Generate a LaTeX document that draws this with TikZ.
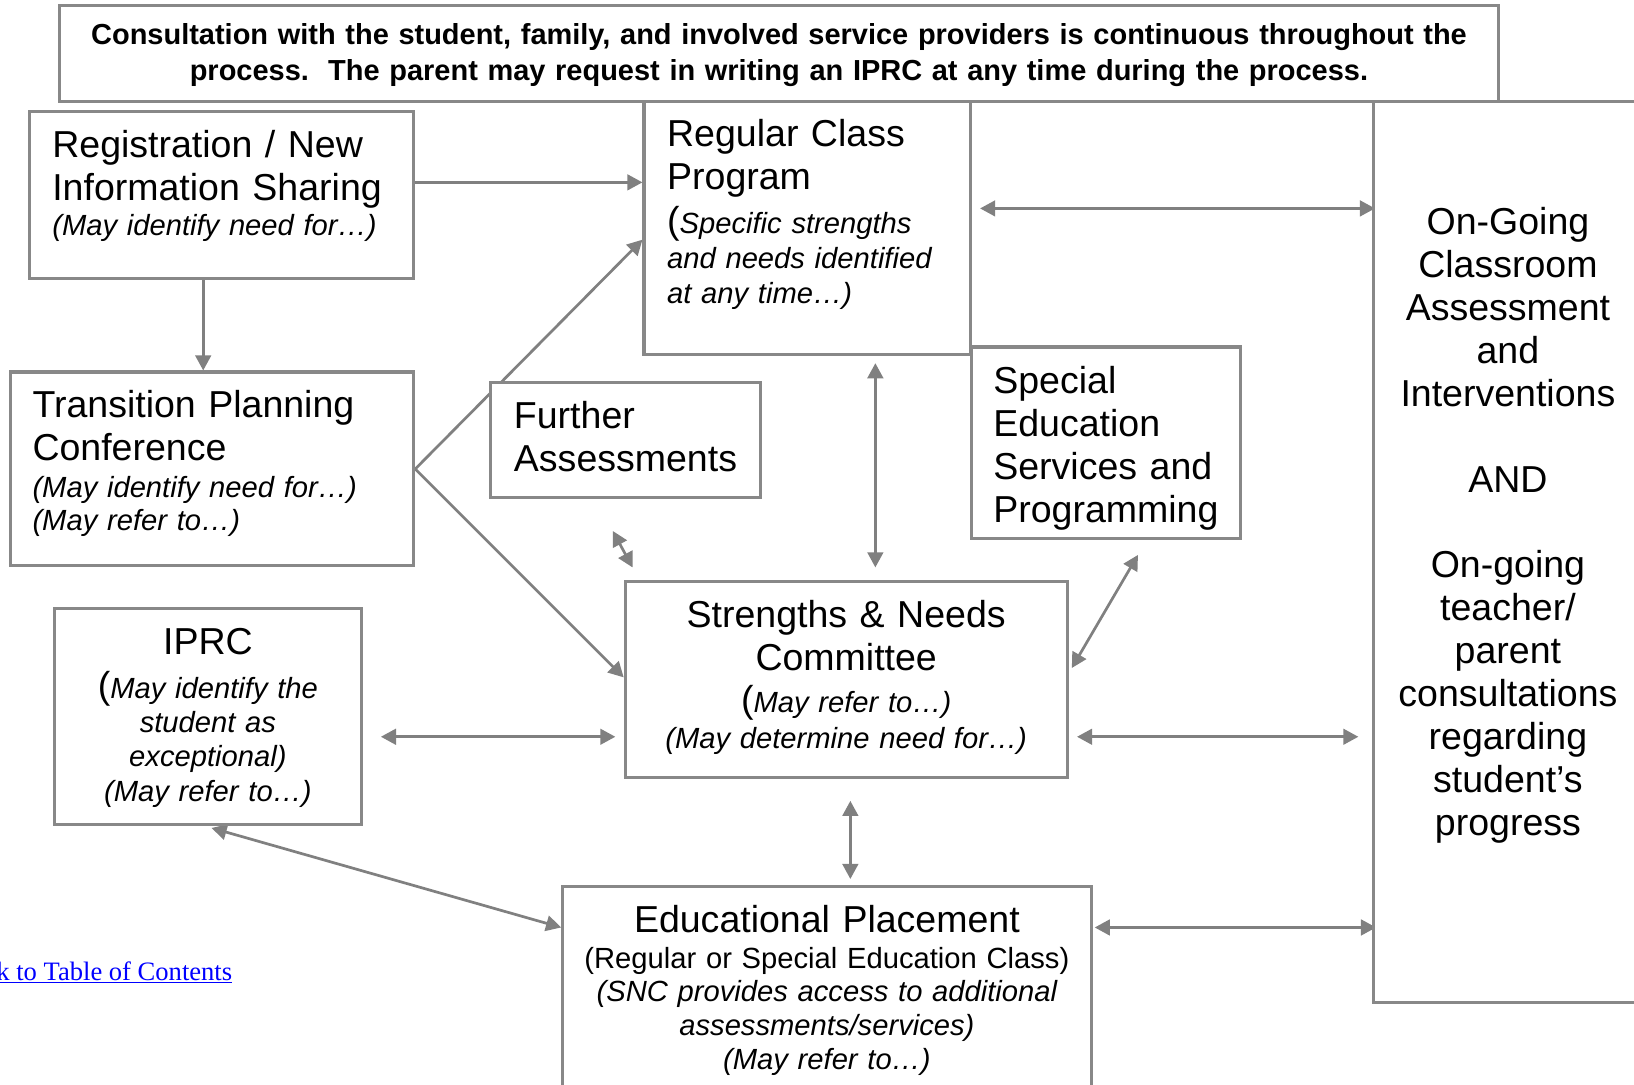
\documentclass[tikz,border=0pt]{standalone}
\usepackage{fontspec}
\setmainfont{Liberation Sans}
\newfontfamily\linkfont{Liberation Serif}
\usetikzlibrary{arrows.meta,calc,backgrounds}
\definecolor{boxgray}{RGB}{136,136,136}
\definecolor{arrgray}{RGB}{128,128,128}
\definecolor{linkblue}{RGB}{0,0,255}
\tikzset{
  box/.style={draw=boxgray,line width=3pt,fill=white,rectangle,inner sep=0pt},
  tl/.style={anchor=base west,inner sep=0pt,align=left,text width=420pt},
  tc/.style={anchor=base,inner sep=0pt,align=center,text width=#1},
  bigtxt/.style={font=\fontsize{36}{41.2}\selectfont},
  smalltxt/.style={font=\fontsize{28}{33}\selectfont},
  itxt/.style={font=\fontsize{28}{#1}\selectfont\itshape},
  conn/.style={draw=arrgray,line width=2.6pt},
  arrone/.style={conn,-{Triangle[length=14.5pt,width=15pt]}},
  arrboth/.style={conn,{Triangle[length=14.5pt,width=15pt]}-{Triangle[length=14.5pt,width=15pt]}}
}
\newcommand{\bigparen}{{\fontsize{36}{41.2}\selectfont\upshape(}}
\begin{document}
\begin{tikzpicture}[x=1pt,y=-1pt]
\useasboundingbox (0,0) rectangle (1568,1041);
\clip (0,0) rectangle (1568,1041);

% boxes
\node[box,minimum width=1381pt,minimum height=92pt] (top) at (747.5,51) {};
\node[box,minimum width=332pt,minimum height=865pt] (ongoing) at (1484,529.5) {};
\node[box,minimum width=369pt,minimum height=160pt] (reg) at (212.5,187) {};
\node[box,minimum width=387pt,minimum height=186pt] (trans) at (203.5,450) {};
\node[box,minimum width=313pt,minimum height=243pt] (regcl) at (774.5,218.5) {};
\node[box,minimum width=259pt,minimum height=110pt] (further) at (600.5,422) {};
\node[box,minimum width=258pt,minimum height=184pt] (special) at (1061,425) {};
\node[box,minimum width=424pt,minimum height=188pt] (snc) at (812,652) {};
\node[box,minimum width=295pt,minimum height=207pt] (iprc) at (199.5,687.5) {};
\node[box,minimum width=507pt,minimum height=249pt] (edu) at (793.5,975.5) {};

% texts
\node[tc=1381pt,font=\fontsize{27.8}{34}\selectfont\bfseries] (topT) at (747.5,43)
  {Consultation with the student, family, and involved service providers is continuous throughout the\\process.\ \ The parent may request in writing an IPRC at any time during the process.};

\node[tc=300pt,bigtxt] (ongoingT) at (1447,225)
  {On-Going\\Classroom\\Assessment\\and\\Interventions\\[41.2pt]AND\\[41.2pt]On-going\\teacher/\\parent\\consultations\\regarding\\student’s\\progress};

\node[tl,bigtxt] (regT) at (50,151) {Registration / New\\Information Sharing};
\node[tl,itxt=33] (regI) at (50,226) {(May identify need for…)};

\node[tl,bigtxt] (transT) at (31,401) {Transition Planning\\Conference};
\node[tl,itxt=32] (transI) at (31,477) {(May identify need for…)\\(May refer to…)};

\node[tl,bigtxt] (regclT) at (640,141) {Regular Class\\Program};
\node[tl,itxt=33.5] (regclI) at (640,224) {\bigparen Specific strengths\\and needs identified\\at any time…)};

\node[tl,bigtxt] (furtherT) at (493,411) {Further\\Assessments};

\node[tl,bigtxt] (specialT) at (953,378) {Special\\Education\\Services and\\Programming};

\node[tc=420pt,bigtxt] (sncT) at (812,602) {Strengths \& Needs\\Committee};
\node[tc=420pt,itxt=34] (sncI) at (812,684) {\bigparen May refer to…)\\(May determine need for…)};

\node[tc=290pt,bigtxt] (iprcT) at (199.5,628) {IPRC};
\node[tc=290pt,itxt=33] (iprcI) at (199.5,670) {\bigparen May identify the\\student as\\exceptional)\\(May refer to…)};

\node[tc=500pt,bigtxt] (eduT) at (793.5,895) {Educational Placement};
\node[tc=500pt,smalltxt] (eduS) at (793.5,929) {(Regular or Special Education Class)};
\node[tc=500pt,itxt=32.5] (eduI) at (793.5,961) {(SNC provides access to additional\\assessments/services)\\(May refer to…)};

\node[anchor=base east,inner sep=0pt,font=\linkfont\fontsize{25.5}{30}\selectfont,text=linkblue] (link) at (223,941) {\underline{Back to Table of Contents}};

% connectors
\begin{scope}[on background layer]
\draw[arrone] ($(reg.east)+(0,-12)$) -- ($(regcl.west)+(0,-43.5)$);
\draw[arrone] ($(reg.south)+(-17.5,0)$) -- ($(trans.north)+(-8.5,0)$);
\draw[arrone] (trans.east) -- ($(regcl.west)+(0,11.5)$);
\draw[arrone] (trans.east) -- ($(snc.west)+(0,-2)$);
\draw[arrboth] ($(further.south)+(-12.5,31)$) -- ($(snc.north)+(-205,-12)$);
\draw[arrboth] ($(regcl.south)+(65.5,7)$) -- ($(snc.north)+(28,-12)$);
\draw[arrboth] ($(special.south)+(31,14)$) -- ($(snc.east)+(3,-11)$);
\draw[arrboth] ($(regcl.east)+(8,-18.5)$) -- ($(ongoing.west)+(3,-329.5)$);
\draw[arrboth] ($(snc.east)+(8,55)$) -- ($(ongoing.west)+(-13,177.5)$);
\draw[arrboth] ($(iprc.east)+(17,19.5)$) -- ($(snc.west)+(-8,55)$);
\draw[arrboth] ($(snc.south)+(4,21)$) -- ($(edu.north)+(22.5,-6)$);
\draw[arrboth] ($(iprc.south)+(3.5,2)$) -- ($(edu.west)+(0,-85.5)$);
\draw[arrboth] ($(edu.east)+(2,-85.5)$) -- ($(ongoing.west)+(4,360.5)$);
\end{scope}
\end{tikzpicture}
\end{document}
